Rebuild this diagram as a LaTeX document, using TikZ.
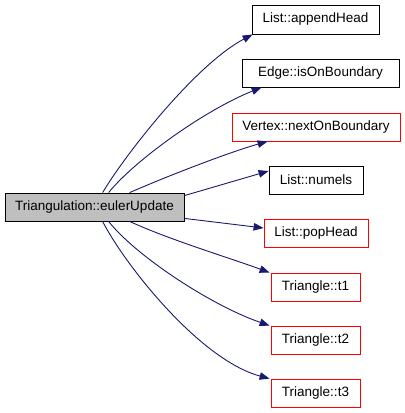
\documentclass[tikz,border=0pt]{standalone}
\usepackage{fontspec}
\setmainfont{Liberation Sans}
\usetikzlibrary{arrows.meta}
\definecolor{edgeblue}{HTML}{191970}
\definecolor{maingray}{HTML}{BFBFBF}
\tikzset{
  fn/.style={draw=black, line width=0.8bp, fill=white, inner sep=0pt, minimum height=28bp, font=\fontsize{13.5bp}{16bp}\selectfont},
  fnred/.style={fn, draw=red},
  fnmain/.style={fn, fill=maingray},
  edge/.style={draw=edgeblue, line width=0.9bp, -{Triangle[length=10bp,width=7.5bp]}},
}
\begin{document}
\begin{tikzpicture}[x=1bp,y=-1bp]
\useasboundingbox (0,0) rectangle (405,413);
\node[fnmain, minimum width=179bp] (main) at (94.5,207) {Triangulation::eulerUpdate};
\node[fn, minimum width=127bp, minimum height=29bp] (ah) at (315.5,19.5) {List::appendHead};
\node[fn, minimum width=157bp] (eb) at (320.5,73) {Edge::isOnBoundary};
\node[fnred, minimum width=168bp] (vx) at (316,127) {Vertex::nextOnBoundary};
\node[fn, minimum width=94bp] (ne) at (316,180) {List::numels};
\node[fnred, minimum width=104bp] (ph) at (316,233) {List::popHead};
\node[fnred, minimum width=89bp] (ta) at (315.5,287) {Triangle::t1};
\node[fnred, minimum width=89bp] (tb) at (315.5,340) {Triangle::t2};
\node[fnred, minimum width=89bp] (tc) at (315.5,393) {Triangle::t3};

\draw[edge] ([xshift=98bp]main.north west) .. controls (125,155) and (195,65) .. ([xshift=1bp]ah.south west);
\draw[edge] ([xshift=104bp]main.north west) .. controls (135,160) and (205,110) .. ([xshift=20bp]eb.south west);
\draw[edge] ([xshift=125bp]main.north west) .. controls (170,175) and (230,152) .. ([xshift=36bp]vx.south west);
\draw[edge] ([yshift=-3bp]main.north east) -- ([yshift=9bp]ne.west);
\draw[edge] ([yshift=3bp]main.south east) -- ([yshift=5bp]ph.west);
\draw[edge] ([xshift=125bp]main.south west) .. controls (170,240) and (230,258) .. ([xshift=-1bp]ta.north west);
\draw[edge] ([xshift=104bp]main.south west) .. controls (135,255) and (210,305) .. ([xshift=-1bp]tb.north west);
\draw[edge] ([xshift=98bp]main.south west) .. controls (125,265) and (200,360) .. ([xshift=-1bp]tc.north west);
\end{tikzpicture}
\end{document}
